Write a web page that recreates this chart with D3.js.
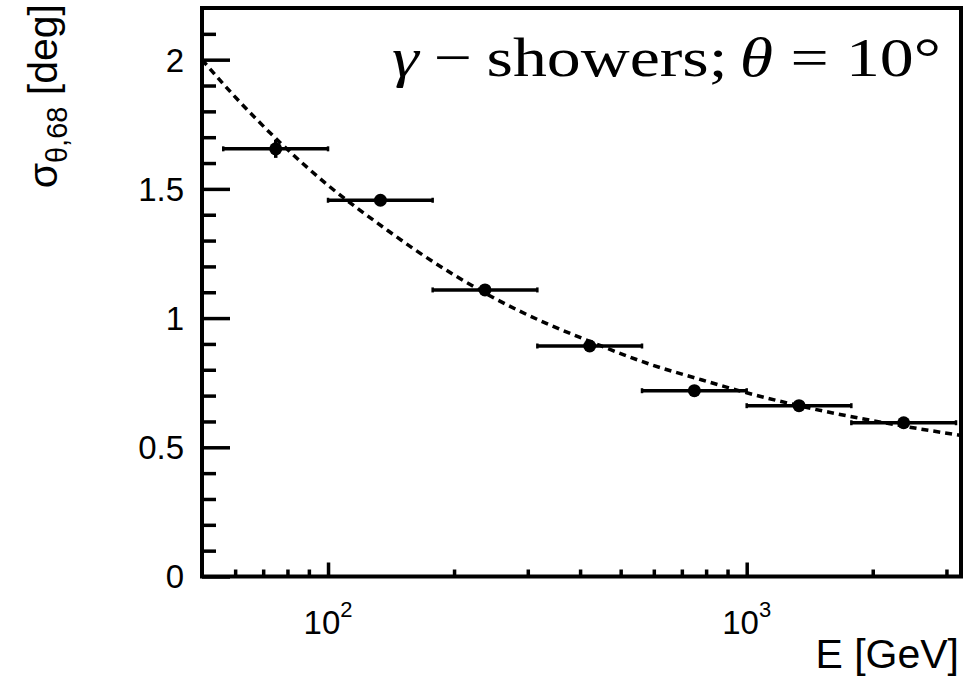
<!DOCTYPE html>
<html>
<head>
<meta charset="utf-8">
<script src="https://cdn.jsdelivr.net/npm/d3@7/dist/d3.min.js"></script>
<style>
  html, body { margin: 0; padding: 0; background: #fff; }
  svg { display: block; }
  .lbl { font-family: "Liberation Sans", Arial, Helvetica, sans-serif; fill: #000; }
  .ttl { font-family: "Liberation Serif", "DejaVu Serif", serif; fill: #000; }
</style>
</head>
<body>
<svg id="chart" width="967" height="676"></svg>
<script>
// Angular resolution (68% containment) versus energy, gamma showers at 10 deg zenith
const binLow    = [56.2, 100, 177.8, 316.2, 562.3, 1000, 1778];
const binHigh   = [100, 177.8, 316.2, 562.3, 1000, 1778, 3162];
const binCenter = [75.0, 133.4, 237.1, 421.7, 749.9, 1333.5, 2371];
const sigma68   = [1.655, 1.456, 1.109, 0.892, 0.719, 0.661, 0.595];
const sigmaErr  = [0.035, 0.012, 0.008, 0.006, 0.005, 0.005, 0.006];

// Fitted resolution curve (sampled)
const fitE     = [50, 59.2, 77.1, 100, 138.6, 162.2, 249.6, 448, 586, 762, 1000, 1341, 2367, 3250];
const fitSigma = [2.00, 1.866, 1.677, 1.514, 1.340, 1.262, 1.077, 0.893, 0.822, 0.766, 0.711, 0.660, 0.582, 0.546];

// Axis ticks
const yMajor = [0, 0.5, 1, 1.5, 2];
const yMinor = [0.1, 0.2, 0.3, 0.4, 0.6, 0.7, 0.8, 0.9, 1.1, 1.2, 1.3, 1.4, 1.6, 1.7, 1.8, 1.9, 2.1];
const xMajor = [100, 1000];
const xMajorExp = ["2", "3"];
const xMinor = [60, 70, 80, 90, 200, 300, 400, 500, 600, 700, 800, 900, 2000, 3000];

const svg = d3.select("#chart");
const L = 202, R = 961, T = 8, B = 576.5;
const LW = 3.5;

const x = d3.scaleLog().domain([50, 3250]).range([L, R]);
const y = d3.scaleLinear().domain([0, 2.2]).range([B, T]);

// y ticks (inward, left side only)
const yAxisMajor = d3.axisLeft(y).tickValues(yMajor).tickSize(-28).tickFormat("");
const yAxisMinor = d3.axisLeft(y).tickValues(yMinor).tickSize(-14).tickFormat("");
[yAxisMajor, yAxisMinor].forEach(ax => {
  const g = svg.append("g").attr("transform", `translate(${L},0)`).call(ax);
  g.select(".domain").remove();
  g.selectAll("line").attr("stroke", "#000").attr("stroke-width", LW);
});

// x ticks (inward, bottom only)
const xAxisMajor = d3.axisBottom(x).tickValues(xMajor).tickSize(-14).tickFormat("");
const xAxisMinor = d3.axisBottom(x).tickValues(xMinor).tickSize(-7).tickFormat("");
[xAxisMajor, xAxisMinor].forEach(ax => {
  const g = svg.append("g").attr("transform", `translate(0,${B})`).call(ax);
  g.select(".domain").remove();
  g.selectAll("line").attr("stroke", "#000").attr("stroke-width", LW);
});

// y tick labels
svg.append("g").selectAll("text").data(yMajor).join("text")
  .attr("class", "lbl")
  .attr("x", 184)
  .attr("y", d => y(d))
  .attr("dy", "0.36em")
  .attr("text-anchor", "end")
  .attr("font-size", 33)
  .text(d => d3.format("")(d));

// x tick labels: 10^n
const xl = svg.append("g").selectAll("text").data(xMajor).join("text")
  .attr("class", "lbl")
  .attr("x", d => x(d))
  .attr("y", 634)
  .attr("text-anchor", "middle")
  .attr("font-size", 33);
xl.append("tspan").text("10");
xl.append("tspan").attr("font-size", 22).attr("dy", -17).text((d, i) => xMajorExp[i]);

// axis titles
svg.append("text").attr("class", "lbl")
  .attr("x", 959).attr("y", 668)
  .attr("text-anchor", "end")
  .attr("font-size", 41)
  .text("E [GeV]");

const yt = svg.append("text").attr("class", "lbl")
  .attr("transform", "translate(57,4) rotate(-90)")
  .attr("text-anchor", "end")
  .attr("font-size", 41);
yt.append("tspan").text("σ");
yt.append("tspan").attr("font-size", 29).attr("dy", 10).text("θ,68");
yt.append("tspan").attr("dy", -10).text(" [deg]");

// fit curve
const line = d3.line().x(d => x(d[0])).y(d => y(d[1])).curve(d3.curveMonotoneX);
svg.append("clipPath").attr("id", "frameClip")
  .append("rect").attr("x", L).attr("y", T).attr("width", R - L).attr("height", B - T);
svg.append("path")
  .datum(fitE.map((e, i) => [e, fitSigma[i]]))
  .attr("clip-path", "url(#frameClip)")
  .attr("d", line)
  .attr("fill", "none")
  .attr("stroke", "#000")
  .attr("stroke-width", LW)
  .attr("stroke-dasharray", "7,5");

// data points with error bars
const pts = svg.append("g");
pts.selectAll("line.xerr").data(sigma68).join("line")
  .attr("class", "xerr")
  .attr("x1", (d, i) => x(binLow[i])).attr("x2", (d, i) => x(binHigh[i]))
  .attr("y1", d => y(d)).attr("y2", d => y(d))
  .attr("stroke", "#000").attr("stroke-width", LW);
// small end marks on the horizontal bars
const ends = [];
sigma68.forEach((d, i) => { ends.push([binLow[i], d]); ends.push([binHigh[i], d]); });
pts.selectAll("line.cap").data(ends).join("line")
  .attr("class", "cap")
  .attr("x1", d => x(d[0])).attr("x2", d => x(d[0]))
  .attr("y1", d => y(d[1]) - 2.5).attr("y2", d => y(d[1]) + 2.5)
  .attr("stroke", "#000").attr("stroke-width", 2.5);
pts.selectAll("line.yerr").data(sigma68).join("line")
  .attr("class", "yerr")
  .attr("x1", (d, i) => x(binCenter[i])).attr("x2", (d, i) => x(binCenter[i]))
  .attr("y1", (d, i) => y(d - sigmaErr[i])).attr("y2", (d, i) => y(d + sigmaErr[i]))
  .attr("stroke", "#000").attr("stroke-width", LW);
pts.selectAll("circle").data(sigma68).join("circle")
  .attr("cx", (d, i) => x(binCenter[i]))
  .attr("cy", d => y(d))
  .attr("r", 6.5)
  .attr("fill", "#000");

// frame
svg.append("rect")
  .attr("x", L).attr("y", T).attr("width", R - L).attr("height", B - T)
  .attr("fill", "none").attr("stroke", "#000").attr("stroke-width", 4);

// annotation (math-style text, stretched to the wide serif look)
const ann = svg.append("text").attr("class", "ttl")
  .attr("x", 0).attr("y", 0)
  .attr("font-size", 55);
ann.append("tspan").attr("font-style", "italic").text("γ");
ann.append("tspan").attr("dx", 12).text("−");
ann.append("tspan").attr("dx", 12).text("showers;");
ann.append("tspan").attr("dx", 10).attr("font-style", "italic").text("θ");
ann.append("tspan").attr("dx", 14).text("=");
ann.append("tspan").attr("dx", 14).text("10°");
const w = ann.node().getBBox().width;
const targetLeft = 392, targetRight = 941;
ann.attr("transform", `translate(${targetLeft},76) scale(${(targetRight - targetLeft) / w},1)`);
</script>
</body>
</html>
